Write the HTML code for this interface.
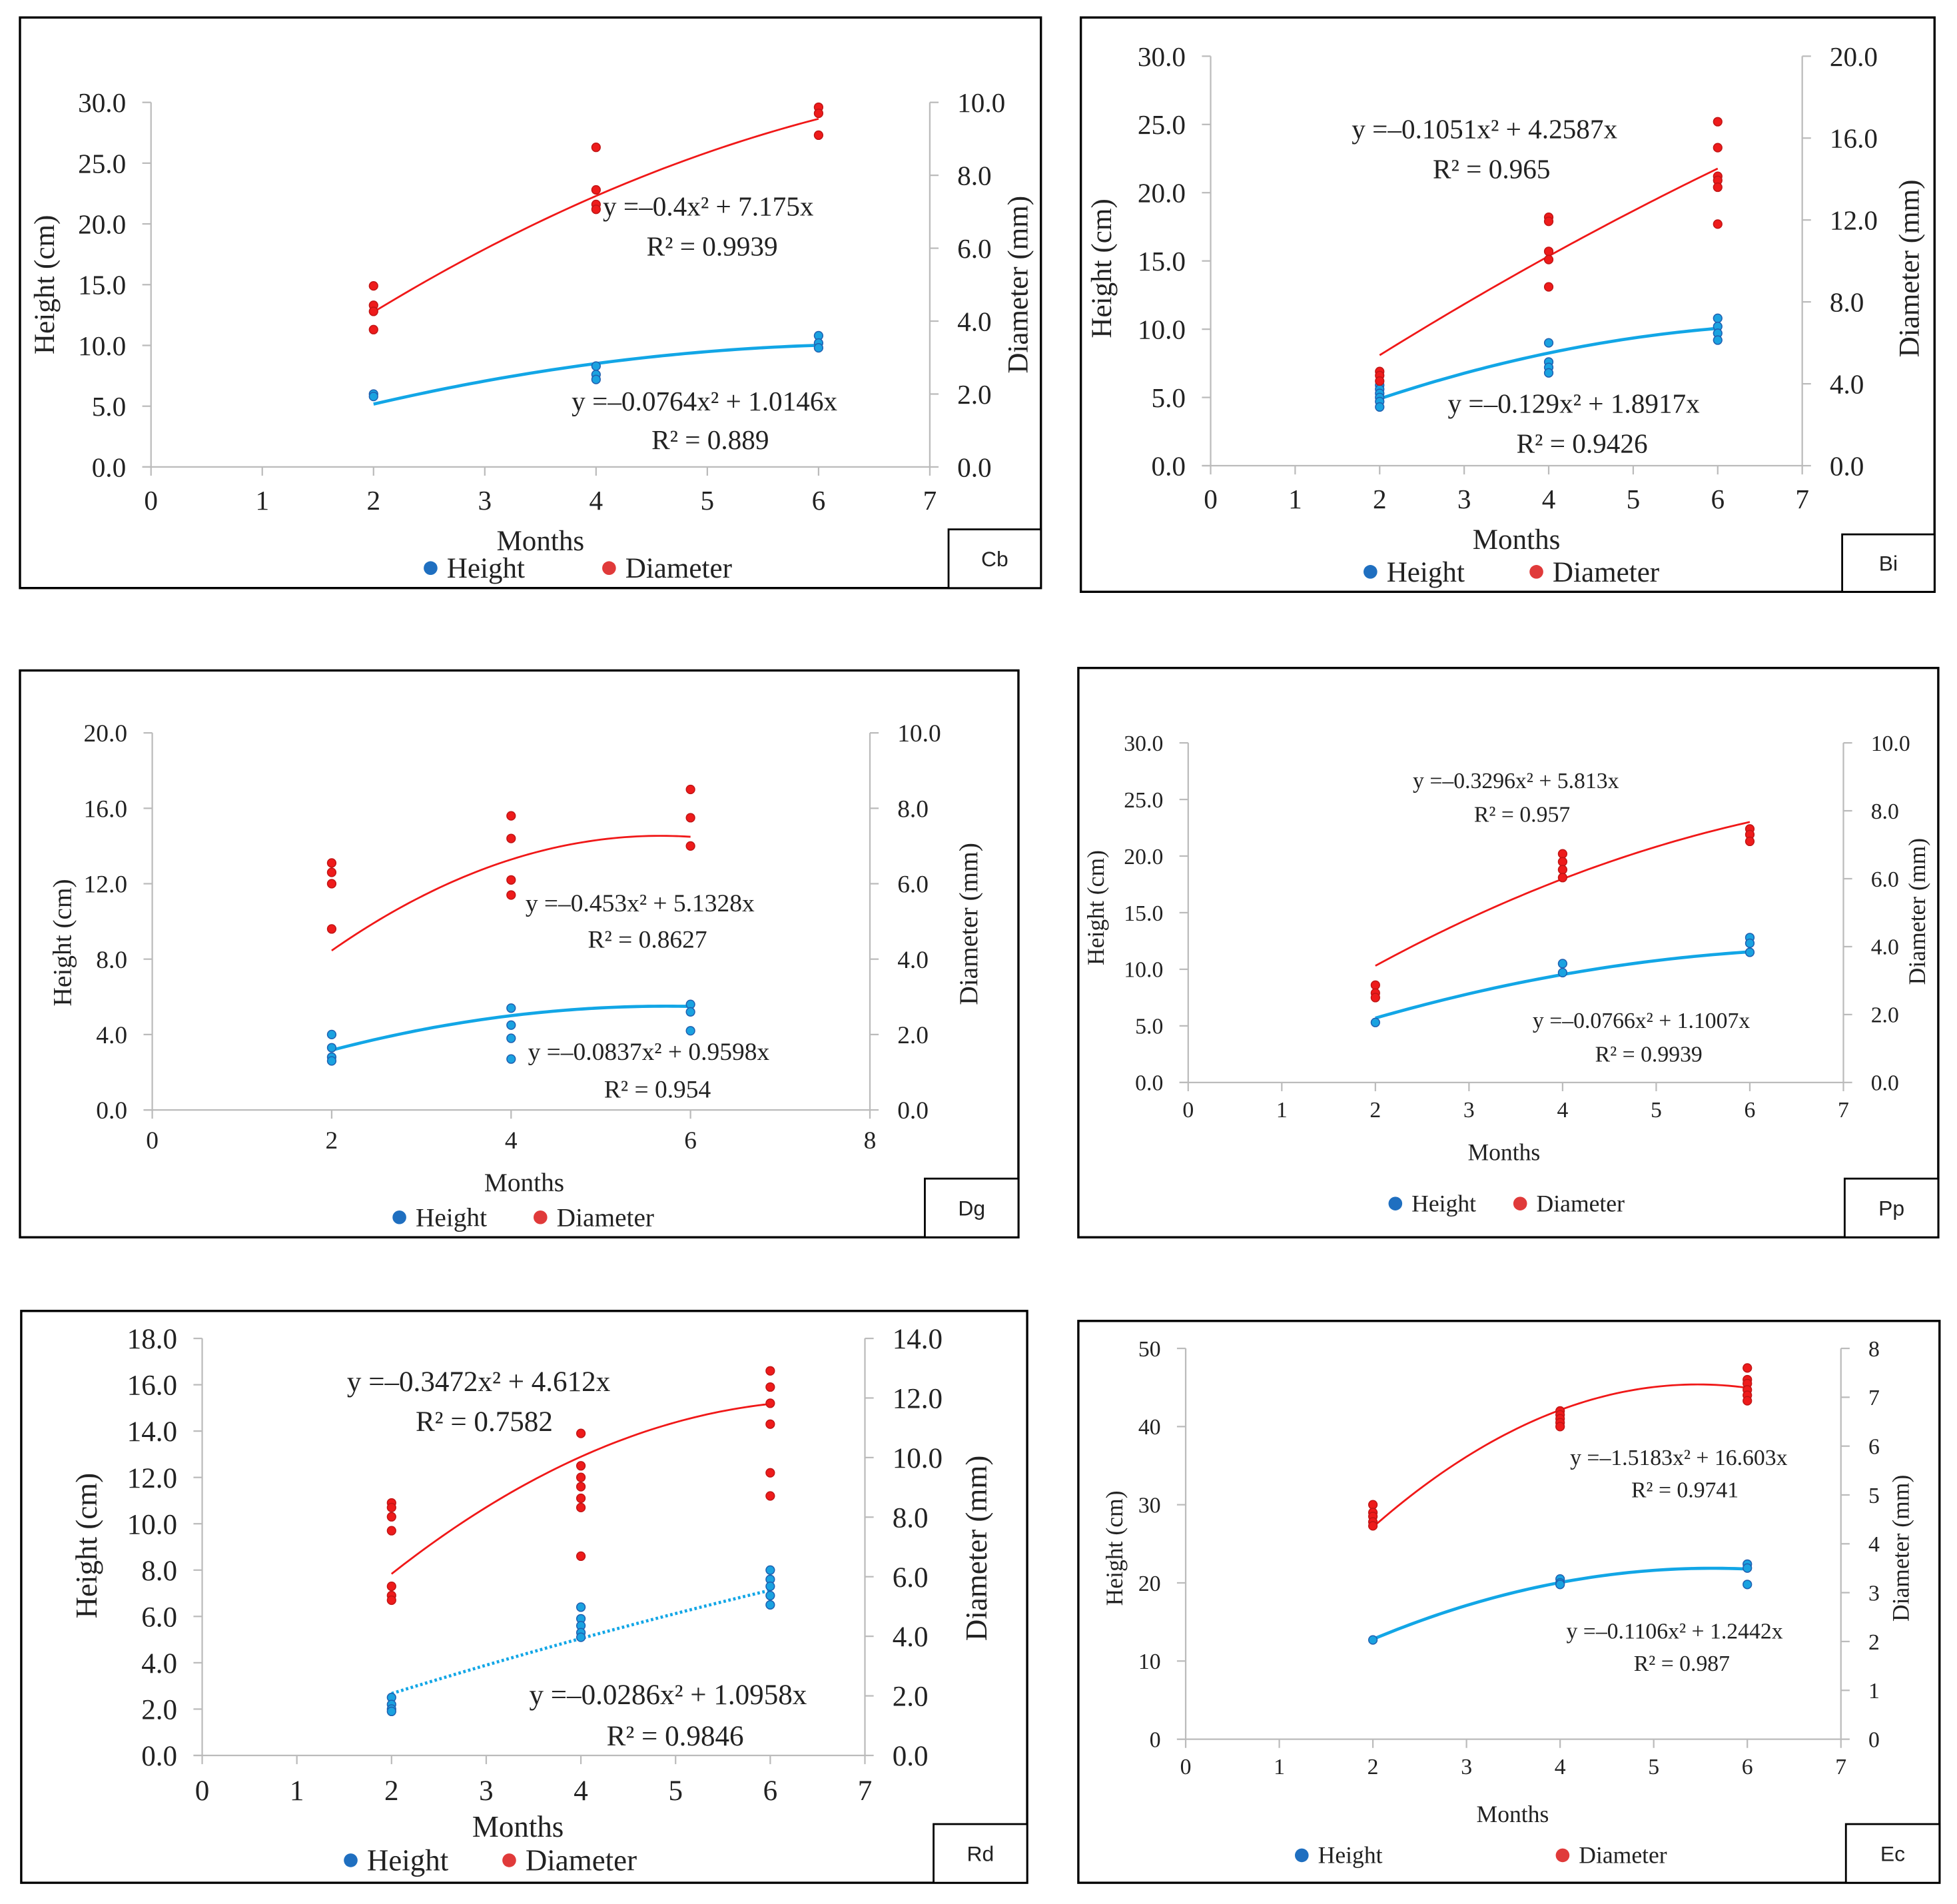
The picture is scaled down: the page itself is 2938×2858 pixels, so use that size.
<!DOCTYPE html>
<html><head><meta charset="utf-8">
<style>
html,body{margin:0;padding:0;background:#fff;}
svg{display:block;}
text{font-family:"Liberation Serif",serif;fill:#222;}
</style></head>
<body>
<svg id="fig" width="2938" height="2858" viewBox="0 0 1568 1525" preserveAspectRatio="none" xmlns="http://www.w3.org/2000/svg"></svg>
<script>
// ---- data (height points in cm on left axis; diameter points shown on left scale as in source) ----
const months=[2,4,6];
const cbHeight=[[6.0,5.8],[8.3,7.6,7.2],[10.8,10.2,9.8]];
const cbDiameter=[[14.9,13.3,12.8,11.3],[26.3,22.8,21.6,21.2],[29.6,29.1,27.3]];
const cbDiamFit=[-0.4,7.175];
const cbHeightFit=[-0.0764,1.0146];
const biHeight=[[5.9,5.6,5.3,5.0,4.7,4.3],[9.0,7.6,7.2,6.8],[10.8,10.2,9.7,9.2]];
const biDiameter=[[6.9,6.6,6.2],[18.2,17.9,15.7,15.1,13.1],[25.2,23.3,21.2,20.9,20.4,17.7]];
const biDiamFit=[-0.1051,4.2587];
const biHeightFit=[-0.129,1.8917];
const dgHeight=[[4.0,3.3,2.8,2.6],[5.4,4.5,3.8,2.7],[5.6,5.2,4.2]];
const dgDiameter=[[13.1,12.6,12.0,9.6],[15.6,14.4,12.2,11.4],[17.0,15.5,14.0]];
const dgDiamFit=[-0.453,5.1328];
const dgHeightFit=[-0.0837,0.9598];
const ppHeight=[[5.3],[10.5,9.7],[12.8,12.3,11.5]];
const ppDiameter=[[8.6,7.9,7.5],[20.2,19.5,18.8,18.1],[22.4,21.9,21.3]];
const ppDiamFit=[-0.3296,5.813];
const ppHeightFit=[-0.0766,1.1007];
const rdHeight=[[2.5,2.2,2.0,1.9],[6.4,5.9,5.6,5.3,5.1],[8.0,7.6,7.3,6.9,6.5]];
const rdDiameter=[[10.9,10.7,10.3,9.7,7.3,6.9,6.7],[13.9,12.5,12.0,11.6,11.1,10.7,8.6],[16.6,15.9,15.2,14.3,12.2,11.2]];
const rdDiamFit=[-0.3472,4.612];
const rdHeightFit=[-0.0286,1.0958];
const ecHeight=[[12.7],[20.5,20.0,19.8],[22.4,21.9,19.8]];
const ecDiameter=[[30,29,28.5,27.8,27.3],[42,41.5,41,40.5,40],[47.5,46,45.5,44.7,44,43.3]];
const ecDiamFit=[-1.5183,16.603];
const ecHeightFit=[-0.1106,1.2442];

const NS="http://www.w3.org/2000/svg";
const svg=document.getElementById('fig');
function mk(tag,attrs,parent,txt){const e=document.createElementNS(NS,tag);for(const k in attrs)e.setAttribute(k,attrs[k]);if(txt!==undefined)e.textContent=txt;(parent||svg).appendChild(e);return e;}

const panels=[
 {id:'cb',box:[16,14,834,471],x0:121,x1:745,xmax:7,y0:374,y1:82,lmax:30,lstep:5,ldec:1,rmax:10,rstep:2,rdec:1,fs:22,
  H:cbHeight,D:cbDiameter,dfit:cbDiamFit,hfit:cbHeightFit,dAxis:'L',hAxis:'R',
  eqD:['y =–0.4x² + 7.175x',483,165,'R² = 0.9939',518,197],eqH:['y =–0.0764x² + 1.0146x',458,321,'R² = 0.889',522,352],
  yl:[38,228],yr:[818,228],months:[433,433],leg:[345,488,455],lab:'Cb',labbox:[760,424]},
 {id:'bi',box:[866,14,1550,474],x0:970,x1:1444,xmax:7,y0:373,y1:45,lmax:30,lstep:5,ldec:1,rmax:20,rstep:4,rdec:1,fs:22,
  H:biHeight,D:biDiameter,dfit:biDiamFit,hfit:biHeightFit,dAxis:'L',hAxis:'R',
  eqD:['y =–0.1051x² + 4.2587x',1083,103,'R² = 0.965',1148,135],eqH:['y =–0.129x² + 1.8917x',1160,323,'R² = 0.9426',1215,355],
  yl:[885,215],yr:[1532,215],months:[1215,432],leg:[1098,1231,458],lab:'Bi',labbox:[1476,428]},
 {id:'dg',box:[16,537,816,991],x0:122,x1:697,xmax:8,xstep:2,y0:889,y1:587,lmax:20,lstep:4,ldec:1,rmax:10,rstep:2,rdec:1,fs:20,
  H:dgHeight,D:dgDiameter,dfit:dgDiamFit,hfit:dgHeightFit,dAxis:'L',hAxis:'R',
  eqD:['y =–0.453x² + 5.1328x',421,723,'R² = 0.8627',471,752],eqH:['y =–0.0837x² + 0.9598x',423,842,'R² = 0.954',484,872],
  yl:[52,755],yr:[778,740],months:[420,947],leg:[320,433,975],lab:'Dg',labbox:[741,944]},
 {id:'pp',box:[864,535,1553,991],x0:952,x1:1477,xmax:7,y0:867,y1:595,lmax:30,lstep:5,ldec:1,rmax:10,rstep:2,rdec:1,fs:18,
  H:ppHeight,D:ppDiameter,dfit:ppDiamFit,hfit:ppHeightFit,dAxis:'L',hAxis:'R',
  eqD:['y =–0.3296x² + 5.813x',1132,625,'R² = 0.957',1181,652],eqH:['y =–0.0766x² + 1.1007x',1228,817,'R² = 0.9939',1278,844],
  yl:[880,727],yr:[1538,730],months:[1205,923],leg:[1118,1218,964],lab:'Pp',labbox:[1478,944]},
 {id:'rd',box:[17,1050,823,1508],x0:162,x1:693,xmax:7,y0:1406,y1:1072,lmax:18,lstep:2,ldec:1,rmax:14,rstep:2,rdec:1,fs:23,
  H:rdHeight,D:rdDiameter,dfit:rdDiamFit,hfit:rdHeightFit,dAxis:'L',hAxis:'R',dotted:true,
  eqD:['y =–0.3472x² + 4.612x',278,1106,'R² = 0.7582',333,1138],eqH:['y =–0.0286x² + 1.0958x',424,1357,'R² = 0.9846',486,1390],
  yl:[72,1238],yr:[785,1240],months:[415,1463],leg:[281,408,1490],lab:'Rd',labbox:[748,1461]},
 {id:'ec',box:[864,1058,1554,1508],x0:950,x1:1475,xmax:7,y0:1393,y1:1080,lmax:50,lstep:10,ldec:0,rmax:8,rstep:1,rdec:0,fs:18,
  H:ecHeight,D:ecDiameter,dfit:ecDiamFit,hfit:ecHeightFit,dAxis:'L',hAxis:'R',
  eqD:['y =–1.5183x² + 16.603x',1258,1167,'R² = 0.9741',1307,1193],eqH:['y =–0.1106x² + 1.2442x',1255,1306,'R² = 0.987',1309,1332],
  yl:[895,1240],yr:[1525,1240],months:[1212,1453],leg:[1043,1252,1486],lab:'Ec',labbox:[1479,1461]}
];

panels.forEach(p=>{
  const g=mk('g',{});
  
  
  const X=v=>p.x0+(p.x1-p.x0)*v/p.xmax;
  const YL=v=>p.y0-(p.y0-p.y1)*v/p.lmax;
  const YR=v=>p.y0-(p.y0-p.y1)*v/p.rmax;
  const ax=a=>a==='L'?YL:YR;
  const b=p.box;
  const frame=mk('rect',{x:b[0],y:b[1],width:b[2]-b[0],height:b[3]-b[1],fill:'none',stroke:'#000','stroke-width':1.8},g);
  
  
  // axes
  mk('line',{x1:p.x0,y1:p.y1,x2:p.x0,y2:p.y0,stroke:'#bbb','stroke-width':1.2},g);
  mk('line',{x1:p.x1,y1:p.y1,x2:p.x1,y2:p.y0,stroke:'#bbb','stroke-width':1.2},g);
  mk('line',{x1:p.x0-7,y1:p.y0,x2:p.x1,y2:p.y0,stroke:'#bbb','stroke-width':1.2},g);
  const xs=p.xstep||1;
  for(let v=0;v<=p.xmax;v+=xs){
    mk('line',{x1:X(v),y1:p.y0,x2:X(v),y2:p.y0+7,stroke:'#bbb','stroke-width':1.2},g);
    const t=mk('text',{x:X(v),y:p.y0+p.fs*1.55,'text-anchor':'middle','font-size':p.fs},g,String(v));
    
    
  }
  for(let v=0;v<=p.lmax+1e-9;v+=p.lstep){
    mk('line',{x1:p.x0-7,y1:YL(v),x2:p.x0,y2:YL(v),stroke:'#bbb','stroke-width':1.2},g);
    const t=mk('text',{x:p.x0-20,y:YL(v)+p.fs*0.35,'text-anchor':'end','font-size':p.fs},g,v.toFixed(p.ldec));
    
    
  }
  for(let v=0;v<=p.rmax+1e-9;v+=p.rstep){
    mk('line',{x1:p.x1,y1:YR(v),x2:p.x1+7,y2:YR(v),stroke:'#bbb','stroke-width':1.2},g);
    const t=mk('text',{x:p.x1+22,y:YR(v)+p.fs*0.35,'text-anchor':'start','font-size':p.fs},g,v.toFixed(p.rdec));
    
    
  }
  // axis titles
  const yl=mk('text',{x:p.yl[0],y:p.yl[1],'text-anchor':'middle','font-size':p.fs+1,transform:`rotate(-90 ${p.yl[0]} ${p.yl[1]})`,'dominant-baseline':'middle'},g,'Height (cm)');
  
  
  const yr=mk('text',{x:p.yr[0],y:p.yr[1],'text-anchor':'middle','font-size':p.fs+1,transform:`rotate(-90 ${p.yr[0]} ${p.yr[1]})`,'dominant-baseline':'middle'},g,'Diameter (mm)');
  
  
  const mt=mk('text',{x:p.months[0],y:p.months[1]+p.fs*0.35,'text-anchor':'middle','font-size':p.fs+1},g,'Months');
  
  
  // fits
  function curve(c,a,color,w,dash,name){
    let d='';
    for(let i=0;i<=60;i++){const x=2+4*i/60;const y=c[0]*x*x+c[1]*x;d+=(i?'L':'M')+X(x).toFixed(2)+','+ax(a)(y).toFixed(2);}
    const pa=mk('path',{d:d,fill:'none',stroke:color,'stroke-width':w},g);
    if(dash)pa.setAttribute('stroke-dasharray',dash);
    
    
  }
  curve(p.dfit,p.dAxis,'#f01818',1.5,null,'diameter-trendline');
  curve(p.hfit,p.hAxis,'#12a6e6',p.dotted?2.5:2.5,p.dotted?'2 2':null,'height-trendline');
  // points
  function pts(arr,fill,stroke,name){
    arr.forEach((vals,i)=>vals.forEach(v=>{
      const c=mk('circle',{cx:X(months[i]),cy:YL(v),r:3.4,fill:fill,stroke:stroke,'stroke-width':0.8},g);
      
      
    }));
  }
  pts(p.H,'#1aa2e0','#1f5fb0','height-point');
  pts(p.D,'#ee1b1b','#c01515','diameter-point');
  // equations
  [[p.eqD,'diameter'],[p.eqH,'height']].forEach(([e,n])=>{
    const t1=mk('text',{x:e[1],y:e[2]+p.fs*0.35,'font-size':p.fs},g,e[0]);
    
    
    const t2=mk('text',{x:e[4],y:e[5]+p.fs*0.35,'font-size':p.fs},g,e[3]);
    
    
  });
  // legend
  const lg=mk('g',{},g);
  
  
  mk('circle',{cx:p.leg[0],cy:p.leg[2],r:5.5,fill:'#1f6fc0'},lg);
  const lh=mk('text',{x:p.leg[0]+13,y:p.leg[2]+p.fs*0.35,'font-size':p.fs+1},lg,'Height');
  
  
  mk('circle',{cx:p.leg[1],cy:p.leg[2],r:5.5,fill:'#e03a3a'},lg);
  const ld=mk('text',{x:p.leg[1]+13,y:p.leg[2]+p.fs*0.35,'font-size':p.fs+1},lg,'Diameter');
  
  
  // label box
  const lb=mk('rect',{x:p.labbox[0],y:p.labbox[1],width:b[2]-p.labbox[0],height:b[3]-p.labbox[1],fill:'#fff',stroke:'#000','stroke-width':1.5},g);
  
  
  const lt=mk('text',{x:(p.labbox[0]+b[2])/2,y:(p.labbox[1]+b[3])/2+6,'text-anchor':'middle','font-size':17},g,p.lab);
  lt.setAttribute('style','font-family:"Liberation Sans",sans-serif');
  
  
});
</script>
</body></html>
